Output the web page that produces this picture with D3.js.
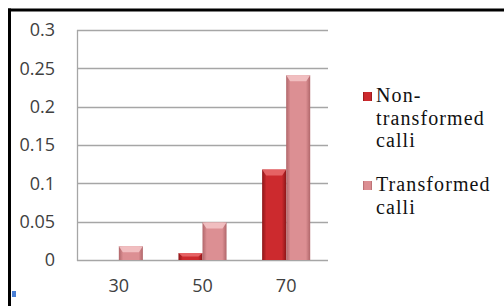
<!DOCTYPE html>
<html>
<head>
<meta charset="utf-8">
<script src="https://cdn.jsdelivr.net/npm/d3@7/dist/d3.min.js"></script>
<style>
  html, body { margin: 0; padding: 0; background: #fff; }
</style>
</head>
<body>
<div id="chart"></div>
<script>
// chart values
var categories = ["30", "50", "70"];
var seriesNames = ["Non-transformed calli", "Transformed calli"];
var nonTransformed = [0, 0.009, 0.118];
var transformed = [0.018, 0.049, 0.241];
var yTicks = [0, 0.05, 0.1, 0.15, 0.2, 0.25, 0.3];
var legendLines = [["Non-", "transformed", "calli"], ["Transformed", "calli"]];

var attrs = {
  svgWidth: 504,
  svgHeight: 306,
  plotLeft: 77,
  plotRight: 328,
  plotTop: 30,
  plotBottom: 260,
  axisFont: '"Open Sans", sans-serif',
  legendFont: '"Liberation Serif", "DejaVu Serif", serif',
  textFill: '#404040',
  gridColor: '#a6a6a6'
};

// colours for each series: edge, middle, top cap
var palette = [
  { edge: '#8c1618', mid: '#cc2a2e', cap: '#e8686a' },
  { edge: '#b0666a', mid: '#dc8f93', cap: '#f3c3c5' }
];

var svg = d3.select('#chart').append('svg')
  .attr('width', attrs.svgWidth)
  .attr('height', attrs.svgHeight);

// gradients for the bevelled bars
var defs = svg.append('defs');
palette.forEach(function (p, i) {
  var g = defs.append('linearGradient')
    .attr('id', 'barGrad' + i)
    .attr('x1', '0%').attr('x2', '100%').attr('y1', '0%').attr('y2', '0%');
  g.append('stop').attr('offset', '0%').attr('stop-color', p.edge);
  g.append('stop').attr('offset', '18%').attr('stop-color', p.mid);
  g.append('stop').attr('offset', '82%').attr('stop-color', p.mid);
  g.append('stop').attr('offset', '100%').attr('stop-color', p.edge);
});

// outer frame (top and left only are visible)
svg.append('line')
  .attr('x1', 8).attr('x2', attrs.svgWidth).attr('y1', 10).attr('y2', 10)
  .attr('stroke', '#000').attr('stroke-width', 3);
svg.append('line')
  .attr('x1', 9.5).attr('x2', 9.5).attr('y1', 8.5).attr('y2', attrs.svgHeight)
  .attr('stroke', '#000').attr('stroke-width', 3);

//Scales
var x0 = d3.scaleBand()
  .domain(categories)
  .range([attrs.plotLeft, attrs.plotRight]);

var x1 = d3.scaleBand()
  .domain([0, 1])
  .range([0, x0.bandwidth()])
  .paddingOuter(0.74);

var y = d3.scaleLinear()
  .domain([0, 0.3])
  .range([attrs.plotBottom, attrs.plotTop]);

// gridlines
svg.append('g')
  .selectAll('line')
  .data(yTicks)
  .enter().append('line')
  .attr('x1', attrs.plotLeft)
  .attr('x2', attrs.plotRight)
  .attr('y1', function (d) { return Math.round(y(d)) + 0.5; })
  .attr('y2', function (d) { return Math.round(y(d)) + 0.5; })
  .attr('stroke', attrs.gridColor)
  .attr('stroke-width', 1.3);

// vertical axis line
svg.append('line')
  .attr('x1', attrs.plotLeft + 0.5).attr('x2', attrs.plotLeft + 0.5)
  .attr('y1', attrs.plotTop).attr('y2', attrs.plotBottom + 1)
  .attr('stroke', attrs.gridColor)
  .attr('stroke-width', 1.3);

// y tick labels
var yAxis = d3.axisLeft(y).tickValues(yTicks).tickSize(0).tickPadding(0)
  .tickFormat(function (d) { return String(+d.toFixed(2)); });
var yG = svg.append('g')
  .attr('transform', 'translate(55,0)')
  .call(yAxis);
yG.select('.domain').remove();
yG.selectAll('text')
  .style('font-family', attrs.axisFont)
  .style('font-size', '18px')
  .attr('fill', attrs.textFill);

// x tick labels
var xAxis = d3.axisBottom(x0).tickSize(0).tickPadding(0);
var xG = svg.append('g')
  .attr('transform', 'translate(0,' + 279 + ')')
  .call(xAxis);
xG.select('.domain').remove();
xG.selectAll('text')
  .style('font-family', attrs.axisFont)
  .style('font-size', '18px')
  .attr('fill', attrs.textFill);

// bars
var rows = categories.map(function (c, i) {
  return { cat: c, values: [nonTransformed[i], transformed[i]] };
});

var groups = svg.append('g').selectAll('g')
  .data(rows)
  .enter().append('g')
  .attr('transform', function (d) { return 'translate(' + x0(d.cat) + ',0)'; });

var bars = groups.selectAll('g.bar')
  .data(function (d) {
    return d.values.map(function (v, s) { return { s: s, v: v }; })
      .filter(function (b) { return b.v > 0; });
  })
  .enter().append('g')
  .attr('class', 'bar');

bars.append('rect')
  .attr('x', function (d) { return x1(d.s); })
  .attr('width', x1.bandwidth())
  .attr('y', function (d) { return y(d.v); })
  .attr('height', function (d) { return attrs.plotBottom - y(d.v); })
  .attr('fill', function (d) { return 'url(#barGrad' + d.s + ')'; });

// lighter bevel cap on top of each bar
bars.append('path')
  .attr('d', function (d) {
    var bx = x1(d.s), bw = x1.bandwidth(), by = y(d.v);
    var h = Math.min(6, (attrs.plotBottom - by) / 2);
    return 'M' + bx + ',' + by + 'L' + (bx + bw) + ',' + by +
      'L' + (bx + bw - 4) + ',' + (by + h) + 'L' + (bx + 4) + ',' + (by + h) + 'Z';
  })
  .attr('fill', function (d) { return palette[d.s].cap; })
  .attr('opacity', 0.9);

// legend
var legendTop = [102, 191];
var legend = svg.append('g').selectAll('g')
  .data(seriesNames)
  .enter().append('g');

legend.append('rect')
  .attr('x', 363)
  .attr('y', function (d, i) { return legendTop[i] - 10; })
  .attr('width', 9)
  .attr('height', 9)
  .attr('fill', function (d, i) { return 'url(#barGrad' + i + ')'; });

legend.append('text')
  .style('font-family', attrs.legendFont)
  .style('font-size', '20px')
  .style('letter-spacing', '1.1px')
  .attr('fill', '#111')
  .selectAll('tspan')
  .data(function (d, i) { return legendLines[i].map(function (t, j) { return { t: t, j: j, i: i }; }); })
  .enter().append('tspan')
  .attr('x', 376)
  .attr('y', function (d) { return legendTop[d.i] + d.j * 22.5; })
  .text(function (d) { return d.t; });

// small blue selection marker bottom-left
svg.append('rect')
  .attr('x', 12).attr('y', 291).attr('width', 4).attr('height', 6)
  .attr('fill', '#4a7fd4');
</script>
</body>
</html>
